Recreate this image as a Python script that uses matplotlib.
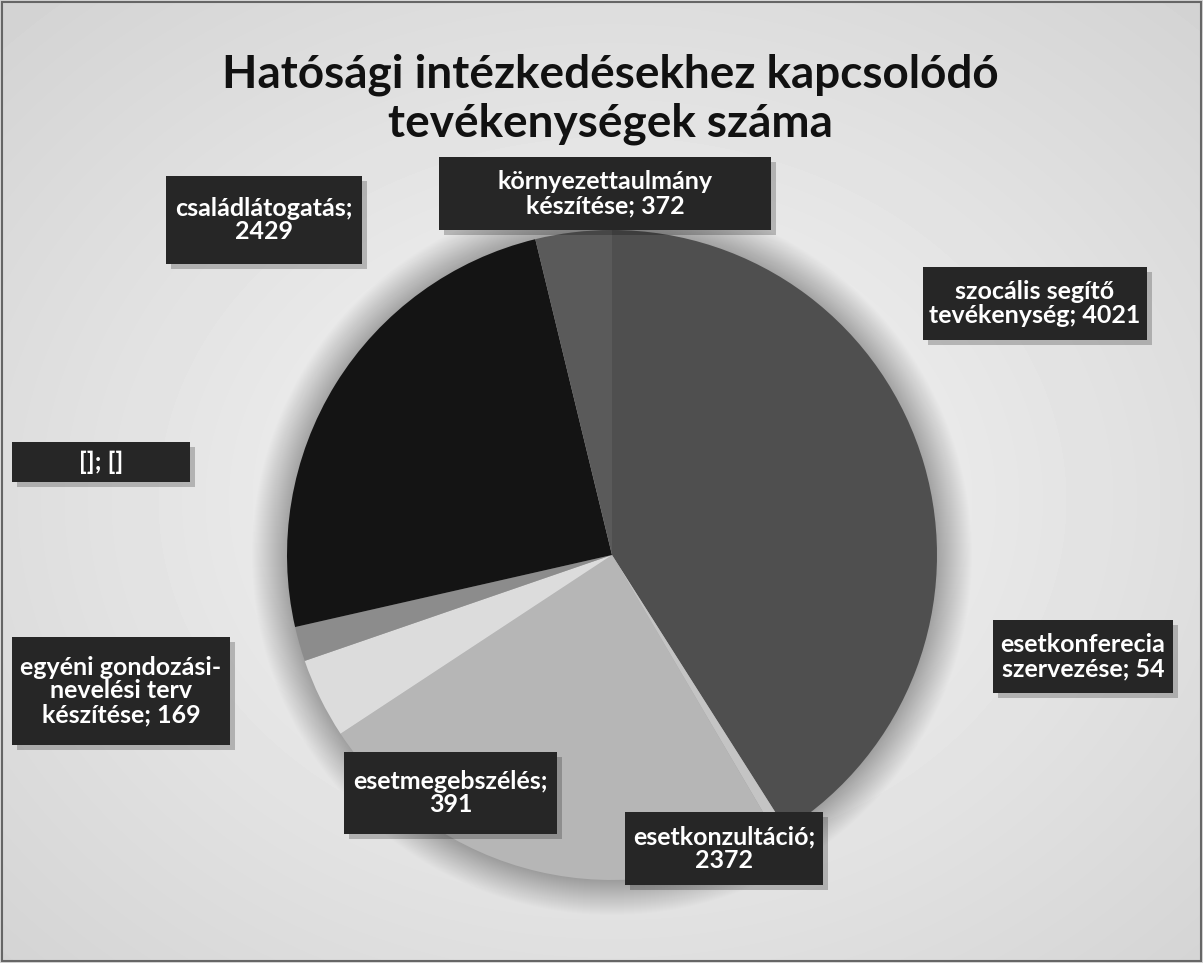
import numpy as np
import matplotlib.pyplot as plt
from matplotlib.patches import Rectangle, Circle

W, H = 1203, 963

# adatok (az óramutató járásával megegyezően, 12 órától)
categories = ["szocális segítő tevékenység", "esetkonferecia szervezése",
              "esetkonzultáció", "esetmegebszélés",
              "egyéni gondozási-nevelési terv készítése", "[]",
              "családlátogatás", "környezettaulmány készítése"]
values = [4021, 54, 2372, 391, 169, 0, 2429, 372]
slice_colors = ["#4f4f4f", "#c4c4c4", "#b6b6b6", "#dcdcdc",
                "#8c8c8c", "#777777", "#141414", "#5a5a5a"]

# címke sablonok, ugyanazokkal a sortörésekkel mint az eredeti
label_templates = ["szocális segítő\ntevékenység; {}", "esetkonferecia\nszervezése; {}",
                   "esetkonzultáció;\n{}", "esetmegebszélés;\n{}",
                   "egyéni gondozási-\nnevelési terv\nkészítése; {}", "[]; {}",
                   "családlátogatás;\n{}", "környezettaulmány\nkészítése; {}"]

# címkedobozok helye képpontban (x0, y0, x1, y1), y felülről
label_boxes = [(923, 267, 1147, 340), (993, 620, 1173, 693),
               (625, 812, 823, 885), (344, 752, 557, 834),
               (12, 637, 230, 745), (12, 442, 190, 482),
               (166, 176, 362, 264), (439, 157, 771, 230)]

title = "Hatósági intézkedésekhez kapcsolódó\ntevékenységek száma"

CX, CY, R = 612, 555, 325

fig = plt.figure(figsize=(W / 100, H / 100), dpi=100)
ax = fig.add_axes([0, 0, 1, 1])

# háttér: világos, a széleken kicsit sötétebb
yy, xx = np.mgrid[0:H, 0:W]
d = np.sqrt(((xx - CX) / W) ** 2 + ((yy - 500) / H) ** 2)
bg = 0.97 - 0.2 * d
ax.imshow(bg, cmap="gray", vmin=0, vmax=1, extent=(0, W, 0, H),
          origin="upper", zorder=0, interpolation="bilinear")

# lágy árnyék a kör körül
for k in range(1, 36):
    ax.add_patch(Circle((CX, H - CY), R + k, facecolor="black",
                        alpha=0.009, linewidth=0, zorder=1))

wedges, _ = ax.pie(values, colors=slice_colors, startangle=90, counterclock=False,
                   center=(CX, H - CY), radius=R,
                   wedgeprops=dict(linewidth=0))
for w in wedges:
    w.set_zorder(2)

for tmpl, v, (x0, y0, x1, y1) in zip(label_templates, values, label_boxes):
    txt = tmpl.format(v if v else "[]")
    # árnyék
    ax.add_patch(Rectangle((x0 + 5, H - y1 - 5), x1 - x0, y1 - y0,
                           facecolor="#000000", alpha=0.22, linewidth=0, zorder=3))
    ax.add_patch(Rectangle((x0, H - y1), x1 - x0, y1 - y0,
                           facecolor="#262626", linewidth=0, zorder=4))
    ax.text((x0 + x1) / 2, H - (y0 + y1) / 2, txt, ha="center", va="center",
            multialignment="center", color="white", fontsize=18,
            fontweight="bold", family="Lato", linespacing=1.05, zorder=5)

ax.text(610, H - 99, title, ha="center", va="center", fontsize=33,
        fontweight="bold", family="Lato", color="#111111", linespacing=1.2,
        zorder=5)

# a szkennelt lap kerete
ax.add_patch(Rectangle((2, 2), W - 4, H - 4, facecolor="none",
                       edgecolor="#666666", linewidth=1.5, zorder=6))

ax.set_xlim(0, W)
ax.set_ylim(0, H)
ax.set_aspect("equal")
ax.axis("off")

fig.savefig("out.png", dpi=100)
